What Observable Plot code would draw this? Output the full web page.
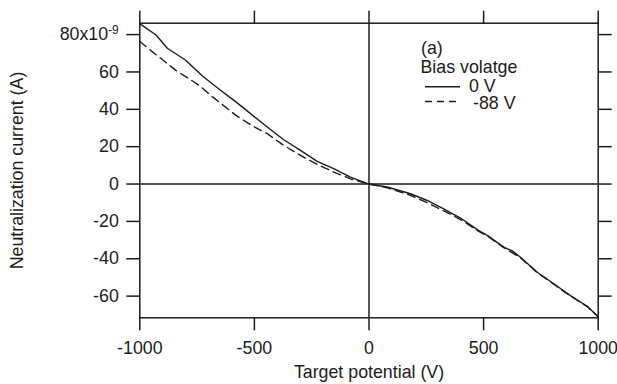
<!DOCTYPE html>
<html><head><meta charset="utf-8">
<script src="https://cdn.jsdelivr.net/npm/d3@7"></script>
<script src="https://cdn.jsdelivr.net/npm/@observablehq/plot@0.6"></script>
<style>body{margin:0;background:#fff}</style>
</head><body><div id="chart"></div>
<script>
// Target potential (V) and neutralization current (x10^-9 A)
const voltage0 = [-1000, -996, -929, -880, -801, -728, -655, -582, -517, -444, -372, -299, -226, -154, -81, 0, 79, 181, 254, 326, 399, 479, 516, 588, 625, 661, 734, 806, 879, 952, 1000];
const current0 = [86, 85.5, 79.8, 72.7, 66.4, 58, 50.9, 44.1, 37.7, 30.5, 23.7, 18, 12.1, 8.2, 3.7, 0, -1.6, -5.2, -8.8, -13.3, -18.2, -24.9, -27.5, -33.8, -35.8, -39.2, -47.2, -53.4, -59.7, -65.4, -71];
const voltage88 = [-1000, -946, -844, -743, -684, -582, -510, -444, -372, -299, -226, -154, -81, 0, 79, 181, 254, 326, 399, 479, 516, 588, 661, 734, 806, 879, 952, 1000];
const current88 = [76.3, 70.9, 61, 53, 46.8, 36.9, 31.2, 27, 20.7, 15.3, 10.5, 6.4, 2.8, 0, -2, -6, -10, -14.3, -19, -25.3, -27.8, -34, -39.5, -47.4, -53.6, -60, -65.6, -71];
const seriesNames = ["0 V", "-88 V"];
const xTicks = [-1000, -500, 0, 500, 1000];
const yTicks = [-60, -40, -20, 0, 20, 40, 60, 80];
const xLabel = "Target potential (V)";
const yLabel = "Neutralization current (A)";
const legendTitle = "Bias volatge";
const panelTag = "(a)";

const rows0 = voltage0.map((v, i) => ({v, c: current0[i], s: seriesNames[0]}));
const rows88 = voltage88.map((v, i) => ({v, c: current88[i], s: seriesNames[1]}));

const ink = "#1c1c1c";
const font = "'Liberation Sans', Arial, Helvetica, sans-serif";
const fs = "17.8px";
const chart = Plot.plot({
  width: 617, height: 384,
  marginLeft: 139.3, marginRight: 19.3, marginTop: 22.7, marginBottom: 66.7,
  style: {fontFamily: font, fontSize: fs, color: ink, background: "white"},
  x: {domain: [-1000, 1000], label: null},
  y: {domain: [-71.6, 86.1], label: null},
  marks: [
    Plot.ruleY([0], {stroke: ink, strokeWidth: 1.5}),
    Plot.ruleX([0], {stroke: ink, strokeWidth: 1.5}),
    Plot.line(rows0, {x: "v", y: "c", stroke: ink, strokeWidth: 1.4}),
    Plot.line(rows88, {x: "v", y: "c", stroke: ink, strokeWidth: 1.4, strokeDasharray: "8,5"}),
    Plot.frame({stroke: ink, strokeWidth: 1.5}),
    Plot.axisX({anchor: "bottom", ticks: xTicks, tickSize: 13, tickPadding: 11, tickFormat: d => `${d}`, label: null, strokeWidth: 1.5}),
    Plot.axisX({anchor: "top", ticks: xTicks, tickSize: 13, tickFormat: () => "", label: null, strokeWidth: 1.5}),
    Plot.axisY({anchor: "left", ticks: yTicks, tickSize: 13, tickPadding: 8, tickFormat: d => `${d}`, label: null, strokeWidth: 1.5}),
    Plot.axisY({anchor: "right", ticks: yTicks, tickSize: 13, tickFormat: () => "", label: null, strokeWidth: 1.5}),
    Plot.text([xLabel], {text: d => d, frameAnchor: "bottom", lineAnchor: "middle", textAnchor: "middle", dy: 54}),
    Plot.text([yLabel], {text: d => d, frameAnchor: "left", lineAnchor: "middle", textAnchor: "middle", rotate: -90, dx: -123})
  ]
});

const svg = d3.select(chart);
// superscript exponent on the top tick label
svg.selectAll('g[aria-label="y-axis tick label"] text')
  .filter(function() { return this.textContent === "80"; })
  .each(function() {
    const t = d3.select(this);
    t.text("80x10");
    t.append("tspan").attr("dy", "-0.5em").attr("font-size", "12px").text("-9");
  });

// legend
const lg = svg.append("g").attr("font-family", font).attr("font-size", fs).attr("fill", ink).attr("text-anchor", "start");
lg.append("text").attr("x", 421).attr("y", 48).attr("dy", "0.35em").text(panelTag);
lg.append("text").attr("x", 420.5).attr("y", 66.5).attr("dy", "0.35em").text(legendTitle);
lg.append("line").attr("x1", 425).attr("x2", 460).attr("y1", 86.7).attr("y2", 86.7).attr("stroke", ink).attr("stroke-width", 1.4);
lg.append("text").attr("x", 469).attr("y", 85.5).attr("dy", "0.35em").text(seriesNames[0]);
lg.append("line").attr("x1", 425).attr("x2", 460).attr("y1", 101.5).attr("y2", 101.5).attr("stroke", ink).attr("stroke-width", 1.4).attr("stroke-dasharray", "7,5");
lg.append("text").attr("x", 473).attr("y", 102.5).attr("dy", "0.35em").text(seriesNames[1]);

document.getElementById("chart").appendChild(chart);
</script>
</body></html>
